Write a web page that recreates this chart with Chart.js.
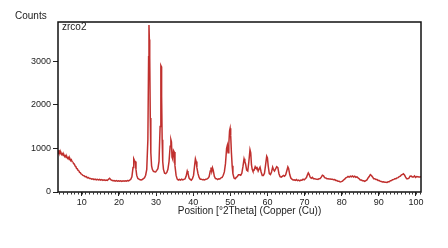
<!DOCTYPE html>
<html>
<head>
<meta charset="utf-8">
<script src="https://cdn.jsdelivr.net/npm/chart.js@4.4.1/dist/chart.umd.min.js"></script>
<style>
html, body { margin: 0; padding: 0; background: #fff; }
</style>
</head>
<body>
<canvas id="xrd" width="448" height="248"></canvas>
<script>
// diffractogram: position (deg 2theta) and counts
const twoTheta = [
  3.6, 3.8, 4.0, 4.2, 4.4, 4.6, 4.8, 5.0, 5.2, 5.4, 5.6, 5.8, 6.0, 6.2, 6.4, 6.6, 6.8, 7.0, 7.2, 7.4,
  7.6, 7.8, 8.0, 8.2, 8.4, 8.6, 8.8, 9.0, 9.2, 9.4, 9.6, 9.8, 10.0, 10.3, 10.6, 10.9, 11.2, 11.5, 11.8, 12.1,
  12.4, 12.7, 13.0, 13.3, 13.6, 13.9, 14.2, 14.5, 14.8, 15.1, 15.4, 15.7, 16.0, 16.3, 16.6, 16.9, 17.2, 17.5, 17.8, 18.1,
  18.4, 18.7, 19.0, 19.3, 19.6, 19.9, 20.2, 20.5, 20.8, 21.1, 21.4, 21.7, 22.0, 22.3, 22.6, 22.9, 23.2, 23.5, 23.8, 24.0,
  24.2, 24.4, 24.6, 24.8, 25.1, 25.4, 25.7, 26.0, 26.3, 26.6, 26.9, 27.2, 27.5, 27.8, 28.0, 28.1, 28.2, 28.3, 28.45, 28.6,
  28.8, 29.0, 29.3, 29.6, 29.9, 30.2, 30.5, 30.8, 31.1, 31.3, 31.4, 31.5, 31.65, 31.8, 32.0, 32.3, 32.6, 32.9, 33.2, 33.5,
  33.8, 34.0, 34.15, 34.3, 34.5, 34.7, 34.9, 35.1, 35.4, 35.7, 36.0, 36.3, 36.6, 36.9, 37.2, 37.5, 37.8, 38.1, 38.4, 38.6,
  38.9, 39.2, 39.5, 39.8, 40.1, 40.4, 40.6, 40.8, 41.0, 41.3, 41.6, 41.9, 42.2, 42.5, 42.8, 43.1, 43.4, 43.7, 44.0, 44.3,
  44.6, 44.8, 45.0, 45.2, 45.4, 45.7, 46.0, 46.3, 46.6, 46.9, 47.2, 47.5, 47.8, 48.1, 48.4, 48.7, 49.0, 49.2, 49.4, 49.6,
  49.8, 49.95, 50.1, 50.3, 50.5, 50.7, 51.0, 51.3, 51.6, 51.9, 52.2, 52.5, 52.8, 53.1, 53.4, 53.7, 53.9, 54.1, 54.4, 54.7,
  55.0, 55.3, 55.5, 55.7, 55.9, 56.1, 56.4, 56.7, 56.9, 57.2, 57.5, 57.8, 58.0, 58.3, 58.6, 58.9, 59.2, 59.5, 59.8, 60.0,
  60.2, 60.5, 60.8, 61.1, 61.4, 61.6, 61.9, 62.2, 62.5, 62.8, 63.1, 63.4, 63.7, 64.0, 64.3, 64.6, 64.9, 65.2, 65.5, 65.7,
  66.0, 66.3, 66.6, 66.9, 67.2, 67.5, 67.8, 68.1, 68.4, 68.7, 69.0, 69.3, 69.6, 69.9, 70.2, 70.5, 70.8, 71.0, 71.2, 71.5,
  71.8, 72.1, 72.4, 72.7, 73.0, 73.3, 73.6, 73.9, 74.2, 74.5, 74.8, 75.1, 75.4, 75.7, 76.0, 76.3, 76.6, 76.9, 77.2, 77.5,
  77.8, 78.1, 78.4, 78.7, 79.0, 79.3, 79.6, 79.9, 80.2, 80.5, 80.8, 81.1, 81.4, 81.7, 82.0, 82.3, 82.6, 82.9, 83.2, 83.5,
  83.8, 84.1, 84.4, 84.7, 85.0, 85.3, 85.6, 85.9, 86.2, 86.5, 86.8, 87.1, 87.4, 87.7, 88.0, 88.3, 88.6, 88.9, 89.2, 89.5,
  89.8, 90.1, 90.4, 90.7, 91.0, 91.3, 91.6, 91.9, 92.2, 92.5, 92.8, 93.1, 93.4, 93.7, 94.0, 94.3, 94.6, 94.9, 95.2, 95.5,
  95.8, 96.1, 96.4, 96.6, 96.9, 97.2, 97.5, 97.8, 98.1, 98.4, 98.7, 99.0, 99.3, 99.6, 99.9, 100.2, 100.5, 100.8, 101.1, 101.35
];
const counts = [
  960, 910, 935, 880, 905, 860, 880, 840, 855, 815, 835, 790, 810, 770, 790, 745, 765, 720, 740, 695,
  690, 650, 640, 595, 585, 540, 530, 495, 490, 450, 445, 415, 410, 380, 375, 350, 355, 325, 330, 310,
  312, 295, 302, 285, 296, 280, 290, 278, 288, 272, 284, 268, 280, 265, 275, 265, 292, 315, 282, 268,
  260, 262, 250, 260, 248, 258, 246, 256, 244, 255, 246, 258, 248, 262, 256, 272, 290, 350, 560, 760,
  720, 700, 520, 380, 310, 295, 280, 278, 285, 305, 325, 385, 520, 1200, 3100, 3830, 3500, 3090, 1700, 900,
  600, 520, 475, 465, 460, 495, 535, 700, 1500, 2900, 2880, 2200, 1200, 700, 520, 430, 420, 450, 520, 700,
  1050, 1200, 1150, 800, 750, 950, 920, 600, 380, 295, 275, 290, 272, 295, 276, 290, 300, 360, 480, 430,
  320, 290, 270, 305, 380, 620, 760, 700, 560, 420, 335, 295, 295, 280, 288, 278, 295, 296, 315, 350,
  480, 560, 470, 555, 500, 360, 310, 305, 285, 305, 300, 325, 335, 385, 460, 650, 1000, 1070, 900, 1100,
  1400, 1460, 1300, 900, 600, 420, 320, 305, 335, 355, 395, 395, 385, 430, 580, 760, 700, 650, 500, 480,
  700, 970, 900, 620, 520, 480, 500, 580, 550, 560, 480, 540, 570, 460, 380, 380, 430, 620, 820, 780,
  600, 420, 400, 460, 570, 520, 480, 530, 580, 560, 420, 350, 340, 360, 380, 360, 390, 480, 575, 540,
  400, 320, 295, 275, 280, 265, 285, 262, 275, 258, 275, 270, 295, 280, 305, 330, 400, 440, 410, 340,
  315, 335, 305, 302, 298, 295, 288, 305, 310, 340, 385, 370, 330, 322, 305, 305, 298, 300, 292, 290,
  282, 285, 265, 262, 245, 245, 232, 238, 250, 275, 295, 325, 335, 355, 340, 365, 350, 370, 345, 362,
  338, 348, 325, 305, 275, 275, 260, 258, 246, 262, 278, 322, 355, 400, 378, 345, 305, 305, 285, 285,
  265, 262, 245, 242, 230, 234, 222, 224, 220, 234, 236, 258, 262, 284, 286, 304, 305, 325, 330, 355,
  365, 395, 405, 420, 390, 340, 305, 305, 315, 362, 365, 345, 345, 368, 335, 355, 350, 345, 345, 348
];
const xTicks = [10, 20, 30, 40, 50, 60, 70, 80, 90, 100];
const yTicks = [0, 1000, 2000, 3000];
const sampleName = 'zrco2';
const yLabel = 'Counts';
const xLabel = 'Position [°2Theta] (Copper (Cu))';

const fontFamily = '"Liberation Sans", Arial, sans-serif';
const textColor = '#222';

// box round the plot, minor x ticks every degree, and the free labels
const frame = {
  id: 'frame',
  afterDraw(chart) {
    const { ctx, chartArea: a, scales: { x } } = chart;
    ctx.save();
    ctx.strokeStyle = '#111';
    ctx.lineWidth = 1.5;
    ctx.strokeRect(a.left, a.top, a.right - a.left, a.bottom - a.top);
    ctx.lineWidth = 1;
    ctx.strokeStyle = '#333';
    for (let v = Math.ceil(x.min); v <= x.max; v++) {
      const px = Math.round(x.getPixelForValue(v)) + 0.5;
      ctx.beginPath();
      ctx.moveTo(px, a.bottom);
      ctx.lineTo(px, a.bottom + 2.5);
      ctx.stroke();
    }
    ctx.fillStyle = textColor;
    ctx.font = '10px ' + fontFamily;
    ctx.textBaseline = 'middle';
    ctx.fillText(sampleName, a.left + 4, a.top + 5);
    ctx.fillText(yLabel, 15, 16);
    ctx.textAlign = 'center';
    ctx.fillText(xLabel, (a.left + a.right) / 2 + 10, 211);
    ctx.restore();
  }
};

new Chart(document.getElementById('xrd'), {
  type: 'line',
  data: {
    labels: twoTheta,
    datasets: [{
      data: counts,
      borderColor: '#c0302e',
      borderWidth: 1.5,
      pointRadius: 0,
      tension: 0,
      fill: false
    }]
  },
  options: {
    responsive: false,
    animation: false,
    layout: { padding: { top: 22, right: 27, bottom: 32, left: 0 } },
    plugins: { legend: { display: false }, tooltip: { enabled: false } },
    scales: {
      x: {
        type: 'linear',
        min: 3.6,
        max: 101.35,
        afterBuildTicks: s => { s.ticks = xTicks.map(v => ({ value: v })); },
        afterFit: s => { s.height = 24; },
        grid: { drawOnChartArea: false, tickLength: 4, tickColor: '#222' },
        border: { display: false },
        ticks: { color: textColor, font: { family: fontFamily, size: 9 }, padding: 1, maxRotation: 0, autoSkip: false, callback: v => String(v) }
      },
      y: {
        min: 0,
        max: 3900,
        afterBuildTicks: s => { s.ticks = yTicks.map(v => ({ value: v })); },
        afterFit: s => { s.width = 58; },
        grid: { drawOnChartArea: false, tickLength: 5, tickColor: '#222' },
        border: { display: false },
        ticks: { color: textColor, font: { family: fontFamily, size: 9 }, padding: 2, callback: v => String(v) }
      }
    }
  },
  plugins: [frame]
});
</script>
</body>
</html>
